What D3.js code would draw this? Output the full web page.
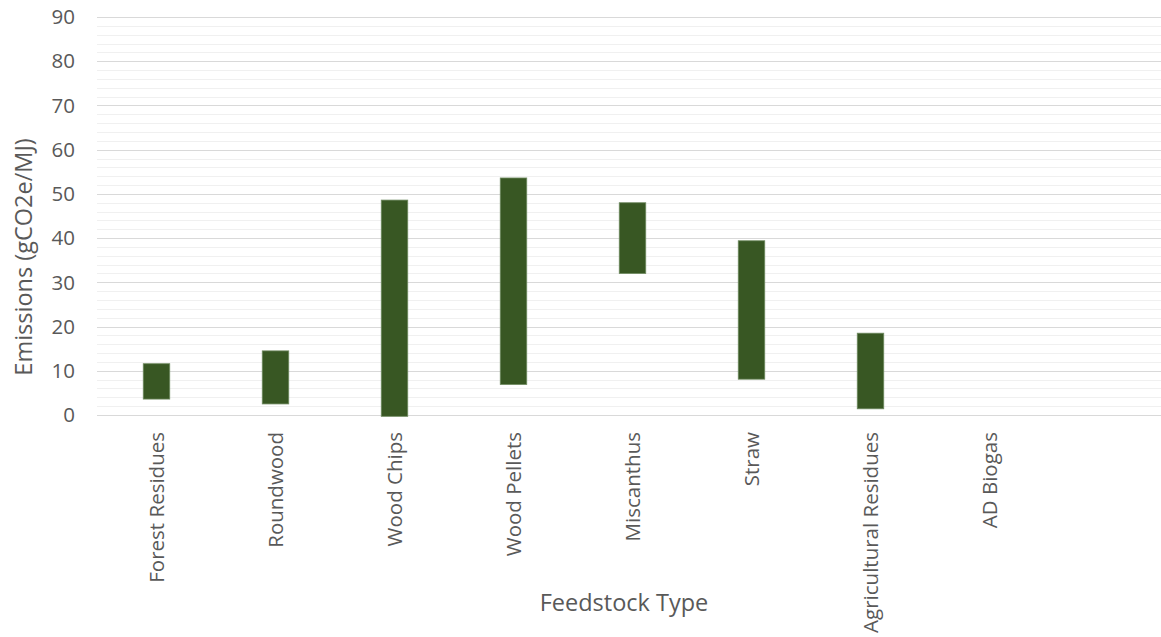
<!DOCTYPE html>
<html><head><meta charset="utf-8">
<script src="https://cdn.jsdelivr.net/npm/d3@7"></script>
<style>body{margin:0;background:#fff;} svg{display:block;}</style>
</head><body>
<svg id="c" width="1161" height="637"></svg>
<script>
const categories = ["Forest Residues","Roundwood","Wood Chips","Wood Pellets","Miscanthus","Straw","Agricultural Residues","AD Biogas"];
const lowValues  = [3.6, 2.5, -0.3, 6.9, 32.0, 8.1, 1.4, null];
const highValues = [11.6, 14.5, 48.6, 53.6, 48.0, 39.4, 18.5, null];
const yTicks = [0,10,20,30,40,50,60,70,80,90];

(function(){
const svg = d3.select("#c");
const mLeft = 97, mRight = 1161, mTop = 17, mBottom = 415;
const step = 119;
const x = d3.scaleBand().domain(categories).range([mLeft, mLeft + step*categories.length]).padding(0);
const y = d3.scaleLinear().domain([0,90]).range([mBottom, mTop]);
const font = "'Open Sans', sans-serif";
const tickSize = 20.5, titleSize = 23.5;

// minor grid
const minor = d3.range(0, 91, 2).filter(v => v % 10 !== 0);
svg.append("g").selectAll("line").data(minor).join("line")
  .attr("x1", mLeft).attr("x2", mRight)
  .attr("y1", d => Math.round(y(d))+0.5).attr("y2", d => Math.round(y(d))+0.5)
  .attr("stroke", "#f0f0f0").attr("stroke-width", 1);
// major grid
svg.append("g").selectAll("line").data(yTicks).join("line")
  .attr("x1", mLeft).attr("x2", mRight)
  .attr("y1", d => Math.round(y(d))+0.5).attr("y2", d => Math.round(y(d))+0.5)
  .attr("stroke", "#d9d9d9").attr("stroke-width", 1);

// y tick labels
svg.append("g").selectAll("text").data(yTicks).join("text")
  .attr("x", 75).attr("y", d => y(d)).attr("dy", "0.35em")
  .attr("text-anchor", "end").attr("font-family", font).attr("font-size", tickSize)
  .attr("fill", "#595959").text(d => d);

// bars
const bw = 26.5;
const data = categories.map((c,i) => ({c, lo: lowValues[i], hi: highValues[i]})).filter(d => d.lo != null);
svg.append("g").selectAll("rect").data(data).join("rect")
  .attr("x", d => x(d.c) + x.bandwidth()/2 - bw/2)
  .attr("width", bw)
  .attr("y", d => y(d.hi))
  .attr("height", d => y(d.lo) - y(d.hi))
  .attr("fill", "#385723").attr("stroke", "#6f8a60").attr("stroke-width", 0.8);

// x labels
svg.append("g").selectAll("text").data(categories).join("text")
  .attr("transform", d => `translate(${x(d) + x.bandwidth()/2},432) rotate(-90)`)
  .attr("dy", "0.35em")
  .attr("text-anchor", "end").attr("font-family", font).attr("font-size", tickSize)
  .attr("fill", "#595959").text(d => d);

// axis titles
svg.append("text").attr("x", 624).attr("y", 611).attr("text-anchor", "middle")
  .attr("font-family", font).attr("font-size", titleSize).attr("fill", "#595959").text("Feedstock Type");
svg.append("text").attr("transform", "translate(32,257) rotate(-90)")
  .attr("text-anchor", "middle").attr("font-family", font).attr("font-size", titleSize)
  .attr("fill", "#595959").text("Emissions (gCO2e/MJ)");
})();
</script>
</body></html>
